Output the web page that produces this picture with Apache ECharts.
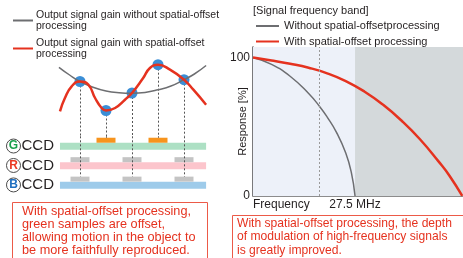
<!DOCTYPE html>
<html>
<head>
<meta charset="utf-8">
<script src="https://cdn.jsdelivr.net/npm/echarts@6/dist/echarts.min.js"></script>
<style>
  html, body { margin: 0; padding: 0; background: #fff; }
  #chart { width: 463px; height: 258px; }
</style>
</head>
<body>
<div id="chart"></div>
<script>
// left diagram: sample positions in pixel pitch units, gain levels
const gainWithOffset = [
  [-0.77, 78.7], [-0.58, 92], [-0.32, 103.7], [0, 108.5], [0.32, 105.3], [0.58, 92],
  [0.83, 82], [1, 79.5], [1.35, 82], [1.73, 90.3], [2, 97], [2.43, 112], [2.69, 122],
  [3, 125.3], [3.46, 120.3], [4, 110.3], [4.36, 100.3], [4.85, 85.3]
];
const gainWithoutOffset = [
  [-0.81, 122.7], [-0.4, 115], [0, 108.5], [0.5, 102.7], [1, 99], [1.5, 97.3], [2, 96.8],
  [2.5, 97.6], [3, 100.2], [3.5, 104], [4, 110.3], [4.4, 116], [4.85, 124.5]
];
const samplePos = [0, 1, 2, 3, 4];
const sampleGain = [108.5, 79.5, 97, 125.3, 110.3];
const ccdRows = ['G', 'R', 'B'];
const ccdSamples = { G: [1, 3], R: [0, 2, 4], B: [0, 2, 4] };
const sensorSpan = [-0.77, 4.85];

// right chart: frequency (MHz) vs response (%)
const respWithout = [
  [0, 100], [5, 95], [10, 86.5], [15, 74], [18, 64.5], [20, 57], [22.5, 46],
  [25, 31], [26.5, 17], [27.5, 0]
];
const respWith = [
  [0, 100], [5, 97.9], [10, 95.5], [15, 92.6], [20, 88.6], [25, 83], [30, 75.5],
  [35, 66], [40, 54.5], [45, 41], [50, 25], [53, 14.5], [56.4, 0]
];
const bandLimit = 27.5;
const freqMax = 56.6;
const markFreq = 17.8;
const respTicks = [0, 100];

const RED = '#e5321f';
const GRAY = '#6d6e71';
const TXT = '#231f20';
const SANS = '"Liberation Sans", Arial, sans-serif';
const rowColor = { G: '#ade0c4', R: '#fcc5cc', B: '#9ecbea' };
const letterColor = { G: '#19a04b', R: '#ea3a24', B: '#1f6fc0' };

// strip/sample rows of each CCD
const stripData = ccdRows.map(r => [r, sensorSpan[0], sensorSpan[1]]);
const sampleData = [];
ccdRows.forEach(r => ccdSamples[r].forEach(u => sampleData.push([u, r])));
// dotted drop lines continue down to the lowest row that has that sample
const dropData = samplePos.map(u => {
  let last = 'G';
  ccdRows.forEach(r => { if (ccdSamples[r].includes(u)) last = r; });
  return [u, last];
});

const chart = echarts.init(document.getElementById('chart'), null, { renderer: 'canvas' });

chart.setOption({
  animation: false,
  title: {
    text: '[Signal frequency band]',
    left: 253, top: 5, padding: 0,
    textStyle: { fontSize: 11, fontWeight: 'normal', color: TXT, fontFamily: SANS }
  },
  legend: [
    {
      data: ['Output signal gain without spatial-offset processing', 'Output signal gain with spatial-offset processing'],
      orient: 'vertical', left: 12, top: 9, padding: 0,
      itemWidth: 20, itemHeight: 8, itemGap: 5,
      itemStyle: { opacity: 0 },
      formatter: n => n.replace(' processing', '\nprocessing'),
      textStyle: { fontSize: 10.5, lineHeight: 11.5, color: TXT, fontFamily: SANS, padding: [0, 0, 0, -2] }
    },
    {
      data: ['Without spatial-offsetprocessing', 'With spatial-offset processing'],
      orient: 'vertical', left: 255, top: 19, padding: 0,
      itemWidth: 23, itemHeight: 8, itemGap: 1.5,
      itemStyle: { opacity: 0 },
      textStyle: { fontSize: 11, lineHeight: 14, color: TXT, fontFamily: SANS }
    }
  ],
  grid: [
    { left: 253, top: 47, width: 210, height: 149 },
    { left: 54, top: 56.3, width: 156, height: 80 },
    { left: 54, top: 136.3, width: 156, height: 58.35 }
  ],
  xAxis: [
    {
      gridIndex: 0, type: 'value', min: 0, max: freqMax,
      axisLine: { lineStyle: { color: '#8c8c8c', width: 1.2 } },
      axisTick: { show: false }, splitLine: { show: false },
      axisLabel: {
        customValues: [0, bandLimit], margin: 3, alignMinLabel: 'left',
        fontSize: 12, color: TXT, fontFamily: SANS,
        formatter: v => (v === 0 ? 'Frequency' : bandLimit + ' MHz')
      }
    },
    { gridIndex: 1, type: 'value', min: -1, max: 5, show: false },
    { gridIndex: 2, type: 'value', min: -1, max: 5, show: false }
  ],
  yAxis: [
    {
      gridIndex: 0, type: 'value', min: 0, max: 107.6,
      name: 'Response [%]', nameLocation: 'middle', nameRotate: 90, nameGap: 5,
      nameMoveOverlap: false,
      nameTextStyle: { fontSize: 11, color: TXT, fontFamily: SANS },
      axisLine: { show: true, lineStyle: { color: '#4d4d4f', width: 1.5 } },
      axisTick: { show: false }, splitLine: { show: false },
      axisLabel: { customValues: respTicks, margin: 3, fontSize: 12, color: TXT, fontFamily: SANS }
    },
    { gridIndex: 1, type: 'value', min: 53.7, max: 133.7, show: false },
    {
      gridIndex: 2, type: 'category', data: ccdRows, inverse: true,
      axisLine: { show: false }, axisTick: { show: false }, splitLine: { show: false },
      axisLabel: {
        margin: 0,
        formatter: v => '{' + v + '|' + v + '}{ccd|CCD}',
        rich: Object.assign({
          ccd: { fontSize: 15, color: TXT, fontFamily: SANS, padding: [0, 0, 0, 1] }
        }, ...ccdRows.map(r => ({
          [r]: {
            color: letterColor[r], fontSize: 12, fontWeight: 'bold', fontFamily: SANS,
            width: 14, height: 14, lineHeight: 14, align: 'center',
            borderColor: '#4a4a4a', borderWidth: 1, borderRadius: 8, padding: [0, 0, 0, 0]
          }
        })))
      }
    }
  ],
  series: [
    // right chart
    {
      name: 'Without spatial-offsetprocessing', type: 'line', xAxisIndex: 0, yAxisIndex: 0,
      data: respWithout, smooth: true, symbol: 'none',
      lineStyle: { color: GRAY, width: 1.5 }, itemStyle: { color: GRAY }, z: 3,
      markArea: {
        silent: true,
        data: [
          [{ xAxis: 0, itemStyle: { color: '#edf1f9' } }, { xAxis: bandLimit }],
          [{ xAxis: bandLimit, itemStyle: { color: '#d4d9db' } }, { xAxis: freqMax }]
        ]
      },
      markLine: {
        silent: true, symbol: 'none', label: { show: false },
        lineStyle: { color: '#9a9a9a', type: [2, 2], width: 1 },
        data: [{ xAxis: markFreq }]
      }
    },
    {
      name: 'With spatial-offset processing', type: 'line', xAxisIndex: 0, yAxisIndex: 0,
      data: respWith, smooth: true, symbol: 'none',
      lineStyle: { color: RED, width: 2.5 }, itemStyle: { color: RED }, z: 4
    },
    // left diagram: dotted drops from samples (wave part)
    {
      type: 'custom', xAxisIndex: 1, yAxisIndex: 1, silent: true, z: 1,
      data: samplePos.map((u, i) => [u, sampleGain[i]]),
      renderItem: (params, api) => {
        const c = api.coord([api.value(0), api.value(1)]);
        const bottom = params.coordSys.y + params.coordSys.height;
        const x = Math.round(c[0]) + 0.5;
        return {
          type: 'line',
          shape: { x1: x, y1: c[1], x2: x, y2: bottom },
          style: { stroke: '#555', lineWidth: 1, lineDash: [2, 2] }
        };
      }
    },
    {
      type: 'scatter', xAxisIndex: 1, yAxisIndex: 1, silent: true, z: 2,
      data: samplePos.map((u, i) => [u, sampleGain[i]]),
      symbolSize: 11, itemStyle: { color: '#3b8ed6', opacity: 1 }
    },
    {
      name: 'Output signal gain without spatial-offset processing', type: 'line',
      xAxisIndex: 1, yAxisIndex: 1, data: gainWithoutOffset, smooth: true, symbol: 'none',
      lineStyle: { color: GRAY, width: 1.5 }, itemStyle: { color: GRAY }, z: 3
    },
    {
      name: 'Output signal gain with spatial-offset processing', type: 'line',
      xAxisIndex: 1, yAxisIndex: 1, data: gainWithOffset, smooth: true, symbol: 'none',
      lineStyle: { color: RED, width: 2.5 }, itemStyle: { color: RED }, z: 4
    },
    // CCD strips
    {
      type: 'custom', xAxisIndex: 2, yAxisIndex: 2, silent: true, z: 2,
      data: stripData,
      encode: { y: 0, x: [1, 2] },
      renderItem: (params, api) => {
        const rowIdx = api.value(0);
        const row = ccdRows[rowIdx];
        const a = api.coord([api.value(1), rowIdx]);
        const b = api.coord([api.value(2), rowIdx]);
        return {
          type: 'rect',
          shape: { x: a[0], y: a[1] - 3.3, width: b[0] - a[0], height: 7 },
          style: { fill: rowColor[row] }
        };
      }
    },
    // CCD pixel samples
    {
      type: 'custom', xAxisIndex: 2, yAxisIndex: 2, silent: true, z: 3,
      data: sampleData,
      renderItem: (params, api) => {
        const row = ccdRows[api.value(1)];
        const c = api.coord([api.value(0), api.value(1)]);
        return {
          type: 'rect',
          shape: { x: c[0] - 9.5, y: c[1] - 8.3, width: 19, height: 5 },
          style: { fill: row === 'G' ? '#f7941d' : '#c4c4c4' }
        };
      }
    },
    // dotted drops continuing through the CCD rows
    {
      type: 'custom', xAxisIndex: 2, yAxisIndex: 2, silent: true, z: 4,
      data: dropData,
      renderItem: (params, api) => {
        const c = api.coord([api.value(0), api.value(1)]);
        const x = Math.round(c[0]) + 0.5;
        return {
          type: 'line',
          shape: { x1: x, y1: params.coordSys.y, x2: x, y2: c[1] - 8.3 },
          style: { stroke: '#555', lineWidth: 1, lineDash: [2, 2] }
        };
      }
    }
  ],
  graphic: [
    {
      type: 'rect', z: 10,
      shape: { x: 12.5, y: 202.5, width: 195, height: 60 },
      style: { fill: '#fff', stroke: '#ec5a48', lineWidth: 1 }
    },
    {
      type: 'text', z: 11, left: 22, top: 204.5,
      style: {
        text: 'With spatial-offset processing,\ngreen samples are offset,\nallowing motion in the object to\nbe more faithfully reproduced.',
        fill: RED, font: '12.7px ' + SANS, lineHeight: 13
      }
    },
    {
      type: 'rect', z: 10,
      shape: { x: 232.5, y: 215.5, width: 240, height: 50 },
      style: { fill: '#fff', stroke: '#ec5a48', lineWidth: 1 }
    },
    {
      type: 'text', z: 11, left: 237, top: 217,
      style: {
        text: 'With spatial-offset processing, the depth\nof modulation of high-frequency signals\nis greatly improved.',
        fill: RED, font: '12.1px ' + SANS, lineHeight: 13.3
      }
    }
  ]
});
</script>
</body>
</html>
